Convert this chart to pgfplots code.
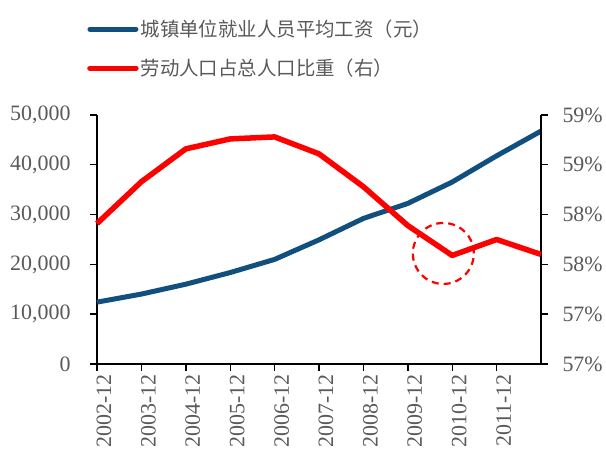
\documentclass[border=0pt]{standalone}
\usepackage{pgfplots}
\pgfplotsset{compat=1.18}
\usepackage{pgfplotstable}
\usepackage{fontspec}
\setmainfont{Liberation Serif}
\newfontfamily\cjk{Noto Sans CJK SC}

\definecolor{wageblue}{RGB}{17,80,126}
\definecolor{labelgray}{RGB}{89,89,89}

% year, average urban wage (yuan), working-age share of population (%)
\pgfplotstableread{
year wage  share
2002 12422 58.41
2003 14040 58.83
2004 16024 59.16
2005 18364 59.26
2006 21001 59.28
2007 24932 59.11
2008 29229 58.78
2009 32244 58.39
2010 36539 58.09
2011 41799 58.25
2012 46769 58.10
}\datatable

\begin{document}
\begin{tikzpicture}
\useasboundingbox (0,0) rectangle (606bp,452bp);
\pgfplotsset{
  common/.style={
    at={(97bp,88bp)}, anchor=south west,
    scale only axis, width=444bp, height=249bp,
    xmin=2002, xmax=2012,
    tick align=outside, major tick length=7bp,
    axis line style={line width=1.4bp},
    every tick/.style={black, line width=1.4bp},
    ticklabel style={font=\fontsize{22}{25}\selectfont, text=labelgray},
    /pgf/number format/assume math mode=true,
    clip=false,
  }
}
\begin{axis}[
  common,
  axis x line*=bottom, axis y line*=left,
  ymin=0, ymax=50000,
  ytick={0,10000,20000,30000,40000,50000},
  scaled y ticks=false,
  yticklabel style={/pgf/number format/1000 sep={,}, xshift=-16bp},
  xtick={2002,2003,2004,2005,2006,2007,2008,2009,2010,2011},
  xticklabels={2002-12,2003-12,2004-12,2005-12,2006-12,2007-12,2008-12,2009-12,2010-12,2011-12},
  xticklabel style={rotate=90, anchor=east, yshift=-7bp},
  legend style={at={(axis description cs:-0.0225,1.39)}, anchor=north west,
    draw=none, fill=none, inner sep=0pt, row sep=17bp,
    font=\cjk\fontsize{19.5}{22}\selectfont, text=labelgray,
    /tikz/every even column/.style={column sep=6bp}},
  legend cell align=left,
  legend image code/.code={\draw[#1, line cap=round] (0bp,0bp) -- (46bp,0bp);},
]
\addplot[wageblue, line width=5bp, line join=round] table[x=year, y=wage] {\datatable};
\addlegendentry{城镇单位就业人员平均工资（元）}
\addlegendimage{red, line width=5.5bp}
\addlegendentry{劳动人口占总人口比重（右）}
\end{axis}

\begin{axis}[
  common,
  axis x line=none, axis y line*=right,
  ymin=57, ymax=59.5,
  ytick={57,57.5,58,58.5,59,59.5},
  yticklabels={57\%,57\%,58\%,58\%,59\%,59\%},
  yticklabel style={xshift=11bp},
]
\addplot[red, line width=5.5bp, line join=round] table[x=year, y=share] {\datatable};
\draw[red, line width=2.2bp, dash pattern=on 7bp off 5bp] (axis cs:2009.8,58.11) circle[radius=30.5bp];
\end{axis}
\end{tikzpicture}
\end{document}
